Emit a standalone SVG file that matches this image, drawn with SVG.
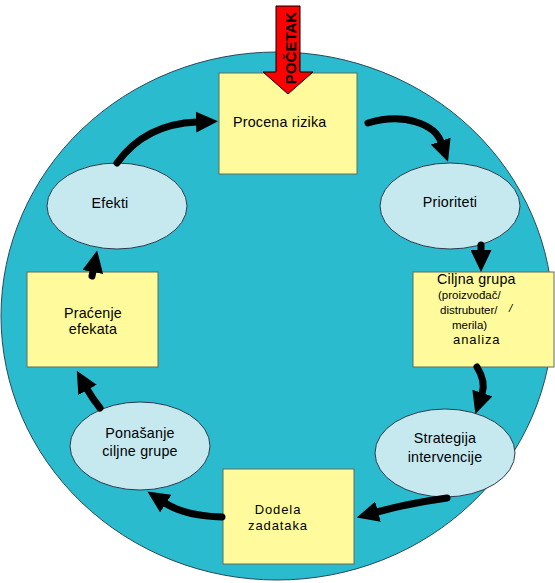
<svg xmlns="http://www.w3.org/2000/svg" width="555" height="583" viewBox="0 0 555 583">
<style>
.rect{fill:#FFFB9C;stroke:#5E6E5E;stroke-width:1}
.ell{fill:#C6E9F0;stroke:#2B3A4A;stroke-width:1}
.lbl{font-family:"Liberation Sans",Arial,sans-serif;font-size:14.3px;fill:#000;letter-spacing:0.2px}
.tight{font-size:13px;letter-spacing:0.9px}
.sm{font-family:"Liberation Sans",Arial,sans-serif;font-size:11.5px;fill:#000}
.conn{fill:none;stroke:#000;stroke-width:7;stroke-linecap:round}
</style>
<defs>
<marker id="ah" viewBox="0 0 22 21" refX="1" refY="10.5" markerWidth="22" markerHeight="21" markerUnits="userSpaceOnUse" orient="auto">
<path d="M0,0 L22,10.5 L0,21 z" fill="#000"/>
</marker>
</defs>
<rect width="555" height="583" fill="#fff"/>
<ellipse id="cycle" cx="277" cy="316" rx="276" ry="264" fill="#2ABBCF" stroke="#2A4A5A" stroke-width="1"/>

<g id="procena">
<rect class="rect" x="219" y="73" width="138" height="101"/>
<text class="lbl" x="233" y="127">Procena rizika</text>
</g>
<g id="prioriteti">
<ellipse class="ell" cx="450" cy="206" rx="70" ry="43"/>
<text class="lbl" x="450" y="207" text-anchor="middle">Prioriteti</text>
</g>
<g id="ciljna">
<rect class="rect" x="413" y="272" width="141" height="95"/>
<text class="lbl" x="437" y="284">Ciljna grupa</text>
<text class="sm" x="438" y="299">(proizvođač/</text>
<text class="sm" x="440" y="314">distrubuter/</text>
<text class="sm" x="509" y="312" font-size="7" font-style="italic">/</text>
<text class="sm" x="452" y="329" font-size="11">merila)</text>
<text class="lbl tight" x="453" y="344">analiza</text>
</g>
<g id="strategija">
<ellipse class="ell" cx="445" cy="453" rx="70" ry="44"/>
<text class="lbl" x="445" y="443" text-anchor="middle">Strategija</text>
<text class="lbl" x="445" y="462" text-anchor="middle">intervencije</text>
</g>
<g id="dodela">
<rect class="rect" x="223" y="469" width="131" height="95"/>
<text class="lbl tight" x="278" y="514" text-anchor="middle">Dodela</text>
<text class="lbl tight" x="278" y="530" text-anchor="middle">zadataka</text>
</g>
<g id="ponasanje">
<ellipse class="ell" cx="140" cy="446" rx="70" ry="44"/>
<text class="lbl" x="140" y="438" text-anchor="middle">Ponašanje</text>
<text class="lbl" x="140" y="456" text-anchor="middle">ciljne grupe</text>
</g>
<g id="pracenje">
<rect class="rect" x="27" y="272" width="131" height="95"/>
<text class="lbl" x="93" y="318" text-anchor="middle">Praćenje</text>
<text class="lbl" x="93" y="334" text-anchor="middle">efekata</text>
</g>
<g id="efekti">
<ellipse class="ell" cx="117" cy="206" rx="70" ry="43"/>
<text class="lbl" x="110" y="208" text-anchor="middle">Efekti</text>
</g>

<g id="connectors">
<path class="conn" marker-end="url(#ah)" d="M117,163 Q145,124 197,122"/>
<path class="conn" marker-end="url(#ah)" d="M368,123 C405,112 435,125 441,142"/>
<path class="conn" marker-end="url(#ah)" d="M481,245 L481,251"/>
<path class="conn" marker-end="url(#ah)" d="M477,367 C482,375 485,385 482,394"/>
<path class="conn" marker-end="url(#ah)" d="M447,498 Q410,503 377,512"/>
<path class="conn" marker-end="url(#ah)" d="M222,517 Q185,516 165,503"/>
<path class="conn" marker-end="url(#ah)" d="M100,408 Q92,398 87,389"/>
<path class="conn" marker-end="url(#ah)" d="M92,276 L93,271"/>
</g>

<g id="start">
<path d="M276,6 L300,6 L300,72 L313,72 L288,94 L263,72 L276,72 Z" fill="#FF0000" stroke="#000" stroke-width="1"/>
<text x="296" y="48" transform="rotate(-90 296 48)" text-anchor="middle" font-family="'Liberation Sans',Arial,sans-serif" font-size="15" font-weight="bold" fill="#000">POČETAK</text>
</g>
</svg>
